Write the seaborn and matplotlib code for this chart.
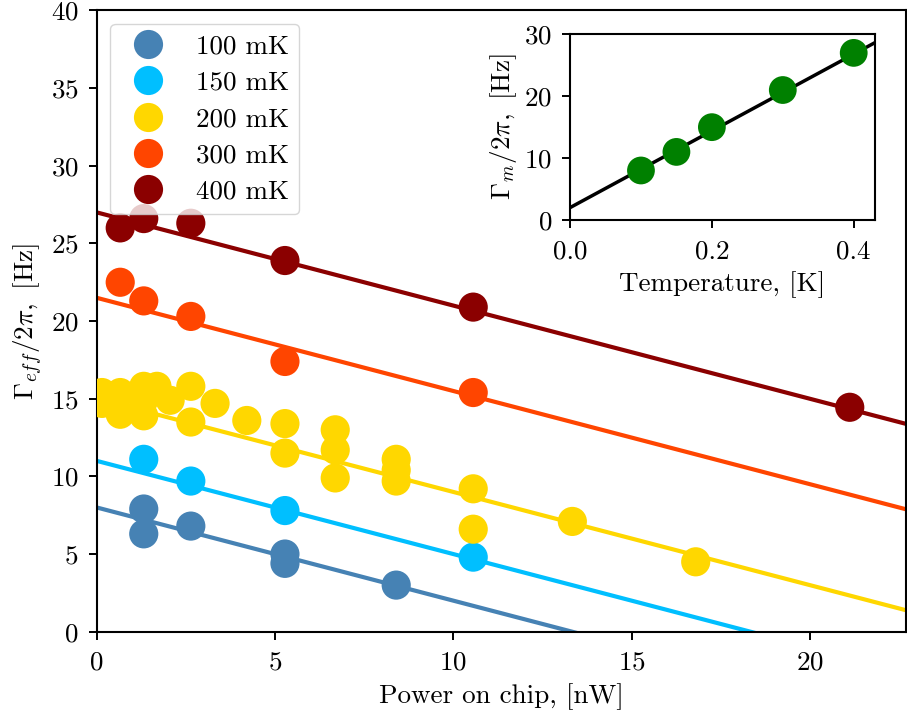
import matplotlib
matplotlib.use('Agg')
import matplotlib.pyplot as plt
from matplotlib.lines import Line2D
import seaborn as sns
import pandas as pd
import numpy as np

# --- data ---
temps = ['100 mK', '150 mK', '200 mK', '300 mK', '400 mK']
colors = ['steelblue', 'deepskyblue', 'gold', 'orangered', 'darkred']

power_100 = [1.32, 1.32, 2.64, 5.28, 5.28, 8.4]
gamma_100 = [7.9, 6.3, 6.8, 5.0, 4.4, 3.0]

power_150 = [1.32, 2.64, 5.28, 10.56]
gamma_150 = [11.1, 9.7, 7.8, 4.8]

power_200 = [0.15, 0.15, 0.66, 0.66, 1.32, 1.32, 1.32, 1.69, 2.06, 2.64, 2.64, 3.32,
             4.21, 5.28, 5.28, 6.69, 6.69, 6.69, 8.4, 8.4, 8.4, 10.56, 10.56, 13.34, 16.8]
gamma_200 = [15.4, 14.7, 15.4, 14.0, 15.8, 14.9, 13.9, 15.8, 14.9, 15.8, 13.5, 14.7,
             13.6, 13.4, 11.5, 13.0, 11.7, 9.9, 11.1, 10.4, 9.7, 9.2, 6.6, 7.1, 4.5]

power_300 = [0.66, 1.32, 2.64, 5.28, 10.56]
gamma_300 = [22.5, 21.3, 20.3, 17.4, 15.4]

power_400 = [0.66, 1.32, 2.64, 5.28, 10.56, 21.12]
gamma_400 = [26.0, 26.6, 26.3, 23.9, 20.9, 14.45]

# linear fits (intercept, slope)
fit_intercepts = [8.0, 11.0, 15.0, 21.5, 27.0]
fit_slope = -0.6
fit_x = [0, 25]

# inset
inset_T = [0.1, 0.15, 0.2, 0.3, 0.4]
inset_gamma = [8, 11, 15, 21, 27]
inset_intercept = 2.0
inset_slope = 62.0
inset_fit_x = [0, 0.5]

powers = [power_100, power_150, power_200, power_300, power_400]
gammas = [gamma_100, gamma_150, gamma_200, gamma_300, gamma_400]

df = pd.concat([pd.DataFrame({'power': p, 'gamma': g, 'T': t})
                for p, g, t in zip(powers, gammas, temps)], ignore_index=True)

# --- style ---
sns.set_style('ticks')
plt.rcParams.update({
    'font.family': 'serif',
    'font.serif': ['cmr10', 'DejaVu Serif'],
    'mathtext.fontset': 'cm',
    'axes.unicode_minus': False,
    'axes.formatter.use_mathtext': True,
    'axes.edgecolor': 'black',
    'axes.labelcolor': 'black',
    'text.color': 'black',
    'xtick.color': 'black',
    'ytick.color': 'black',
    'axes.linewidth': 1.5,
    'xtick.major.size': 6,
    'ytick.major.size': 6,
    'xtick.major.width': 1.4,
    'ytick.major.width': 1.4,
    'xtick.major.pad': 8,
    'ytick.major.pad': 7,
})

font_size = 19.5
marker_size = 21
line_width = 3

fig = plt.figure(figsize=(9.07, 7.18), dpi=100)
ax = fig.add_axes([0.1066, 0.1202, 0.8924, 0.8652])

for b, c in zip(fit_intercepts, colors):
    fy = [b + fit_slope * x for x in fit_x]
    sns.lineplot(x=fit_x, y=fy, ax=ax, color=c, lw=line_width, zorder=2)

sns.scatterplot(data=df, x='power', y='gamma', hue='T', palette=colors, hue_order=temps,
                s=marker_size ** 2, edgecolor='none', linewidth=0, legend=False, ax=ax, zorder=3)

ax.set_xlim(0, 22.7)
ax.set_ylim(0, 40)
ax.set_xticks([0, 5, 10, 15, 20])
ax.set_yticks([0, 5, 10, 15, 20, 25, 30, 35, 40])
ax.tick_params(labelsize=font_size)
ax.set_xlabel('Power on chip, [nW]', fontsize=font_size, labelpad=6)
ax.set_ylabel(r'$\Gamma_{eff}/2\pi,$ [Hz]', fontsize=font_size)

handles = [Line2D([], [], marker='o', linestyle='none', color=c, markersize=marker_size,
                  markeredgewidth=0) for c in colors]
ax.legend(handles, temps, loc='upper left', fontsize=font_size, handlelength=2.0,
          handletextpad=0.75, labelspacing=0.45, borderpad=0.4, framealpha=0.8)

# --- inset ---
axin = fig.add_axes([0.6285, 0.6936, 0.3362, 0.2586])
fy = [inset_intercept + inset_slope * x for x in inset_fit_x]
sns.lineplot(x=inset_fit_x, y=fy, ax=axin, color='black', lw=2.5, zorder=2)
sns.scatterplot(x=inset_T, y=inset_gamma, ax=axin, color='green', s=20 ** 2,
                edgecolor='none', linewidth=0, zorder=3)
axin.set_xlim(0, 0.43)
axin.set_ylim(0, 30)
axin.set_xticks([0.0, 0.2, 0.4])
axin.set_yticks([0, 10, 20, 30])
axin.set_xticklabels(['0.0', '0.2', '0.4'])
axin.tick_params(labelsize=font_size)
axin.set_xlabel('Temperature, [K]', fontsize=font_size, labelpad=6)
axin.set_ylabel(r'$\Gamma_m/2\pi,$ [Hz]', fontsize=font_size)

fig.savefig('out.png', dpi=100)
